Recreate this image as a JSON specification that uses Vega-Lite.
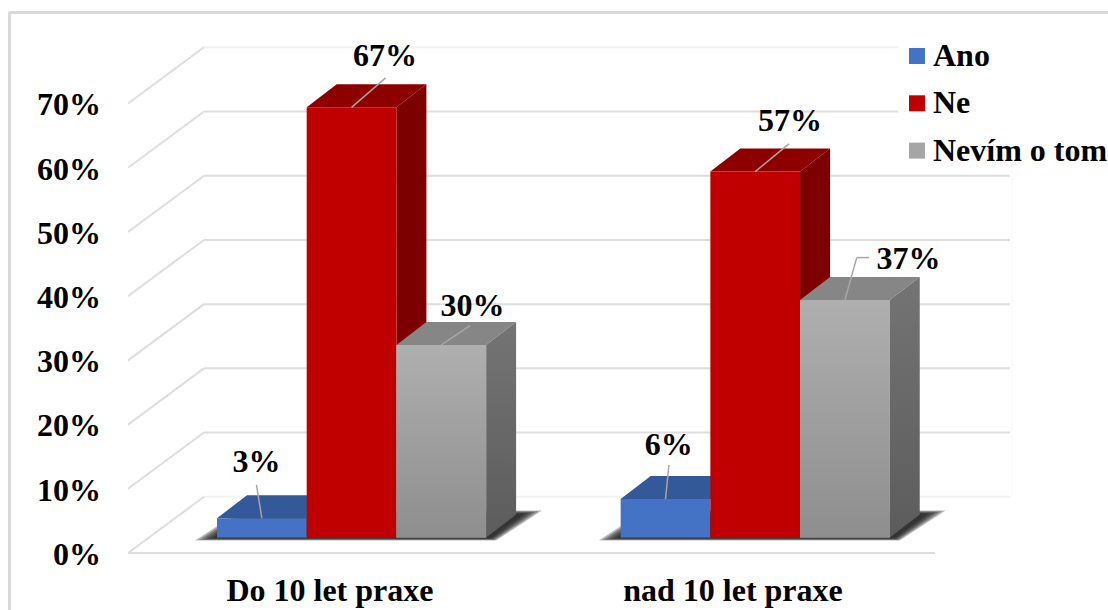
{
"$schema":"https://vega.github.io/schema/vega-lite/v6.json",
"width":1108,"height":610,"padding":0,"autosize":{"type":"none"},"background":"white",
"config":{"view":{"stroke":null}},
"params":[
{"name":"depthX","value":0.3344},
{"name":"depthY","value":3.58},
{"name":"labelDx","value":[0.441,0.874,0.849,0.537,0.888,1.21]},
{"name":"labelDy","value":[8.7,7.95,6.0,8.4,7.85,6.4]},
{"name":"leadDx","value":[0.44,0.88,0.82,0.538,0.876,0.632]},
{"name":"leadDy","value":[5.2,4.6,3.0,5.3,4.3,6.6]},
{"name":"tailDx","value":[0,0,0,0,0,0.77]}
],
"datasets":{
"levels":[{"level":0},{"level":10},{"level":20},{"level":30},{"level":40},{"level":50},{"level":60},{"level":70}],
"categories":[{"group":"Do 10 let praxe","center":1.259},{"group":"nad 10 let praxe","center":5.752}]
},
"data":{"values":[
{"group":"Do 10 let praxe","series":"Ano","value":3},
{"group":"Do 10 let praxe","series":"Ne","value":67},
{"group":"Do 10 let praxe","series":"Nevím o tom","value":30},
{"group":"nad 10 let praxe","series":"Ano","value":6},
{"group":"nad 10 let praxe","series":"Ne","value":57},
{"group":"nad 10 let praxe","series":"Nevím o tom","value":37}
]},
"transform":[
{"calculate":"datum.group==='Do 10 let praxe'?0:1","as":"g"},
{"calculate":"indexof(['Ano','Ne','Nevím o tom'],datum.series)","as":"s"},
{"calculate":"datum.g*4.5+datum.s","as":"slot"},
{"calculate":"datum.slot+1","as":"slotEnd"},
{"calculate":"datum.g*3+datum.s","as":"idx"},
{"calculate":"datum.value+'%'","as":"label"}
],
"layer":[
{"data":{"name":"levels"},
"transform":[{"calculate":"datum.level+6.35","as":"wallY"}],
"mark":{"type":"rule","strokeWidth":2},
"encoding":{
"x":{"datum":-0.145,"type":"quantitative","scale":{"domain":[-2.4192,9.9331],"nice":false,"zero":false},"axis":null},
"x2":{"datum":8.84},
"y":{"field":"wallY","type":"quantitative","scale":{"domain":[-11.29,83.72],"nice":false,"zero":false},"axis":null},
"stroke":{"condition":{"test":"datum.level===70||datum.level===0","value":"#f2f2f2"},"value":"#dedede"}}},
{"data":{"name":"levels"},
"transform":[{"calculate":"datum.level+6.35","as":"wallY"},{"calculate":"datum.level-2.41","as":"frontY"}],
"mark":{"type":"rule","strokeWidth":2,"stroke":"#dedede"},
"encoding":{
"x":{"datum":-0.145,"type":"quantitative","scale":{"domain":[-2.4192,9.9331],"nice":false,"zero":false},"axis":null},
"x2":{"datum":-0.992},
"y":{"field":"wallY","type":"quantitative","scale":{"domain":[-11.29,83.72],"nice":false,"zero":false},"axis":null},
"y2":{"field":"frontY"}}},
{"data":{"name":"levels"},
"transform":[{"calculate":"datum.level-2.7","as":"tickY"},{"calculate":"datum.level+'%'","as":"tick"}],
"mark":{"type":"text","font":"Liberation Serif","fontSize":32,"fontWeight":"bold","color":"#000000","align":"right","baseline":"middle"},
"encoding":{
"x":{"datum":-1.2935,"type":"quantitative","scale":{"domain":[-2.4192,9.9331],"nice":false,"zero":false},"axis":null},
"y":{"field":"tickY","type":"quantitative","scale":{"domain":[-11.29,83.72],"nice":false,"zero":false},"axis":null},
"text":{"field":"tick","type":"nominal"}}},
{"data":{"name":"categories"},
"mark":{"type":"text","font":"Liberation Serif","fontSize":32,"fontWeight":"bold","color":"#000000","align":"center","baseline":"middle"},
"encoding":{
"x":{"field":"center","type":"quantitative","scale":{"domain":[-2.4192,9.9331],"nice":false,"zero":false},"axis":null},
"y":{"datum":-8.4,"type":"quantitative","scale":{"domain":[-11.29,83.72],"nice":false,"zero":false},"axis":null},
"text":{"field":"group","type":"nominal"}}},
{"mark":{"type":"rule","strokeWidth":2,"stroke":"#dedede"},
"encoding":{
"x":{"datum":-0.992,"type":"quantitative","scale":{"domain":[-2.4192,9.9331],"nice":false,"zero":false},"axis":null},
"x2":{"datum":8.0},
"y":{"datum":-2.41,"type":"quantitative","scale":{"domain":[-11.29,83.72],"nice":false,"zero":false},"axis":null}}},
{"mark":{"type":"rule","strokeWidth":2,"stroke":"#d9d9d9"},
"encoding":{
"x":{"datum":-2.313,"type":"quantitative","scale":{"domain":[-2.4192,9.9331],"nice":false,"zero":false},"axis":null},
"y":{"datum":81.78,"type":"quantitative","scale":{"domain":[-11.29,83.72],"nice":false,"zero":false},"axis":null},
"y2":{"datum":-11.29}}},
{"mark":{"type":"rule","strokeWidth":2,"stroke":"#d9d9d9"},
"encoding":{
"x":{"datum":-2.313,"type":"quantitative","scale":{"domain":[-2.4192,9.9331],"nice":false,"zero":false},"axis":null},
"x2":{"datum":9.9331},
"y":{"datum":81.78,"type":"quantitative","scale":{"domain":[-11.29,83.72],"nice":false,"zero":false},"axis":null}}},
{"mark":{"type":"rule","strokeWidth":1,"stroke":"#fbfbfb"},
"encoding":{
"x":{"datum":8.86,"type":"quantitative","scale":{"domain":[-2.4192,9.9331],"nice":false,"zero":false},"axis":null},
"y":{"datum":76.35,"type":"quantitative","scale":{"domain":[-11.29,83.72],"nice":false,"zero":false},"axis":null},
"y2":{"datum":6.35}}},

{"transform":[
{"filter":"datum.s===0"},
{"calculate":"[0,1,2,3,4,5]","as":"t"},{"flatten":["t"]},
{"calculate":"[0,1,2,3]","as":"v"},{"flatten":["v"]},
{"calculate":"datum.g*10+datum.t","as":"shadowId"},
{"calculate":"datum.slot+[-0.245+datum.t*0.04,0.268+datum.t*0.012,3.11-datum.t*0.012,3.623-datum.t*0.04][datum.v]","as":"sx"},
{"calculate":"4.2-datum.t*0.1","as":"backY"},
{"calculate":"-0.467+datum.t*0.07","as":"frontY"},
{"calculate":"datum.v===3?datum.backY:datum.frontY","as":"sy2"},
{"calculate":"datum.v===0?datum.frontY:datum.backY","as":"sy"}
],
"mark":{"type":"area","orient":"vertical","color":"#1c1c1c","opacity":0.3},
"encoding":{
"x":{"field":"sx","type":"quantitative","scale":{"domain":[-2.4192,9.9331],"nice":false,"zero":false},"axis":null},
"y":{"field":"sy","type":"quantitative","scale":{"domain":[-11.29,83.72],"nice":false,"zero":false},"axis":null},
"y2":{"field":"sy2"},
"detail":{"field":"shadowId","type":"nominal"}}},

{"transform":[
{"filter":"datum.s===0"},
{"calculate":"[0,1,2,3]","as":"v"},{"flatten":["v"]},
{"calculate":"datum.slot+[0,depthX,1,1+depthX][datum.v]","as":"fx"},
{"calculate":"datum.value+(datum.v===3?depthY:0)","as":"fy"},
{"calculate":"datum.value+(datum.v===0?0:depthY)","as":"fy2"}],
"mark":{"type":"area","orient":"vertical","color":"#345998"},
"encoding":{
"x":{"field":"fx","type":"quantitative","scale":{"domain":[-2.4192,9.9331],"nice":false,"zero":false},"axis":null},
"y":{"field":"fy","type":"quantitative","scale":{"domain":[-11.29,83.72],"nice":false,"zero":false},"axis":null},
"y2":{"field":"fy2"},
"detail":{"field":"idx","type":"nominal"}}},

{"transform":[
{"filter":"datum.s===1"},
{"calculate":"[0,1]","as":"v"},{"flatten":["v"]},
{"calculate":"datum.slotEnd+datum.v*depthX","as":"fx"},
{"calculate":"datum.value+datum.v*depthY","as":"fy"},
{"calculate":"datum.v*depthY","as":"fy2"}],
"mark":{"type":"area","orient":"vertical","color":"#7c0000"},
"encoding":{
"x":{"field":"fx","type":"quantitative","scale":{"domain":[-2.4192,9.9331],"nice":false,"zero":false},"axis":null},
"y":{"field":"fy","type":"quantitative","scale":{"domain":[-11.29,83.72],"nice":false,"zero":false},"axis":null},
"y2":{"field":"fy2"},
"detail":{"field":"idx","type":"nominal"}}},
{"transform":[
{"filter":"datum.s===1"},
{"calculate":"[0,1,2,3]","as":"v"},{"flatten":["v"]},
{"calculate":"datum.slot+[0,depthX,1,1+depthX][datum.v]","as":"fx"},
{"calculate":"datum.value+(datum.v===3?depthY:0)","as":"fy"},
{"calculate":"datum.value+(datum.v===0?0:depthY)","as":"fy2"}],
"mark":{"type":"area","orient":"vertical","color":"#8e0000"},
"encoding":{
"x":{"field":"fx","type":"quantitative","scale":{"domain":[-2.4192,9.9331],"nice":false,"zero":false},"axis":null},
"y":{"field":"fy","type":"quantitative","scale":{"domain":[-11.29,83.72],"nice":false,"zero":false},"axis":null},
"y2":{"field":"fy2"},
"detail":{"field":"idx","type":"nominal"}}},

{"transform":[
{"filter":"datum.s===2"},
{"calculate":"[0,1,2,3]","as":"v"},{"flatten":["v"]},
{"calculate":"datum.slot+[0,depthX,1,1+depthX][datum.v]","as":"fx"},
{"calculate":"datum.value+(datum.v===3?depthY:0)","as":"fy"},
{"calculate":"datum.value+(datum.v===0?0:depthY)","as":"fy2"}],
"mark":{"type":"area","orient":"vertical","color":"#868686"},
"encoding":{
"x":{"field":"fx","type":"quantitative","scale":{"domain":[-2.4192,9.9331],"nice":false,"zero":false},"axis":null},
"y":{"field":"fy","type":"quantitative","scale":{"domain":[-11.29,83.72],"nice":false,"zero":false},"axis":null},
"y2":{"field":"fy2"},
"detail":{"field":"idx","type":"nominal"}}},
{"transform":[
{"filter":"datum.s===2"},
{"calculate":"[0,1]","as":"v"},{"flatten":["v"]},
{"calculate":"datum.slotEnd+datum.v*depthX","as":"fx"},
{"calculate":"datum.value+datum.v*depthY","as":"fy"},
{"calculate":"datum.v*depthY","as":"fy2"}],
"mark":{"type":"area","orient":"vertical","color":{"gradient":"linear","x1":0,"y1":0,"x2":0,"y2":1,"stops":[{"offset":0,"color":"#747474"},{"offset":1,"color":"#5c5c5c"}]}},
"encoding":{
"x":{"field":"fx","type":"quantitative","scale":{"domain":[-2.4192,9.9331],"nice":false,"zero":false},"axis":null},
"y":{"field":"fy","type":"quantitative","scale":{"domain":[-11.29,83.72],"nice":false,"zero":false},"axis":null},
"y2":{"field":"fy2"},
"detail":{"field":"idx","type":"nominal"}}},

{"transform":[{"calculate":"0","as":"base"}],
"mark":{"type":"rect"},
"encoding":{
"x":{"field":"slot","type":"quantitative","scale":{"domain":[-2.4192,9.9331],"nice":false,"zero":false},"axis":null},
"x2":{"field":"slotEnd"},
"y":{"field":"value","type":"quantitative","scale":{"domain":[-11.29,83.72],"nice":false,"zero":false},"axis":null},
"y2":{"field":"base"},
"color":{"field":"series","type":"nominal","scale":{"domain":["Ano","Ne","Nevím o tom"],"range":["#4472c4","#c00000","#a6a6a6"]},
"legend":{"orient":"none","legendX":898,"legendY":37,"title":null,"fillColor":"#ffffff","padding":3,"symbolType":"square","symbolSize":256,"symbolStrokeWidth":0,"labelFont":"Liberation Serif","labelFontSize":32,"labelFontWeight":"bold","labelColor":"#000000","labelOffset":0,"rowPadding":15.3,"labelLimit":300}}}},

{"transform":[{"filter":"datum.s===2"},{"calculate":"0","as":"base"}],
"mark":{"type":"rect","color":{"gradient":"linear","x1":0,"y1":0,"x2":0,"y2":1,"stops":[{"offset":0,"color":"#afafaf"},{"offset":1,"color":"#8e8e8e"}]}},
"encoding":{
"x":{"field":"slot","type":"quantitative","scale":{"domain":[-2.4192,9.9331],"nice":false,"zero":false},"axis":null},
"x2":{"field":"slotEnd"},
"y":{"field":"value","type":"quantitative","scale":{"domain":[-11.29,83.72],"nice":false,"zero":false},"axis":null},
"y2":{"field":"base"}}},

{"transform":[
{"calculate":"datum.slot+0.5","as":"lx"},
{"calculate":"datum.slot+leadDx[datum.idx]","as":"lx2"},
{"calculate":"datum.value+leadDy[datum.idx]","as":"ly2"}],
"mark":{"type":"rule","stroke":"#a6a6a6","strokeWidth":1.5},
"encoding":{
"x":{"field":"lx","type":"quantitative","scale":{"domain":[-2.4192,9.9331],"nice":false,"zero":false},"axis":null},
"x2":{"field":"lx2"},
"y":{"field":"value","type":"quantitative","scale":{"domain":[-11.29,83.72],"nice":false,"zero":false},"axis":null},
"y2":{"field":"ly2"}}},
{"transform":[
{"filter":"tailDx[datum.idx]>0"},
{"calculate":"datum.slot+leadDx[datum.idx]","as":"lx"},
{"calculate":"datum.slot+tailDx[datum.idx]","as":"lx2"},
{"calculate":"datum.value+leadDy[datum.idx]","as":"ly"}],
"mark":{"type":"rule","stroke":"#a6a6a6","strokeWidth":1.5},
"encoding":{
"x":{"field":"lx","type":"quantitative","scale":{"domain":[-2.4192,9.9331],"nice":false,"zero":false},"axis":null},
"x2":{"field":"lx2"},
"y":{"field":"ly","type":"quantitative","scale":{"domain":[-11.29,83.72],"nice":false,"zero":false},"axis":null}}},

{"transform":[
{"calculate":"datum.slot+labelDx[datum.idx]","as":"tx"},
{"calculate":"datum.value+labelDy[datum.idx]","as":"ty"}],
"mark":{"type":"text","font":"Liberation Serif","fontSize":32,"fontWeight":"bold","color":"#000000","align":"center","baseline":"middle"},
"encoding":{
"x":{"field":"tx","type":"quantitative","scale":{"domain":[-2.4192,9.9331],"nice":false,"zero":false},"axis":null},
"y":{"field":"ty","type":"quantitative","scale":{"domain":[-11.29,83.72],"nice":false,"zero":false},"axis":null},
"text":{"field":"label","type":"nominal"}}}
]
}
